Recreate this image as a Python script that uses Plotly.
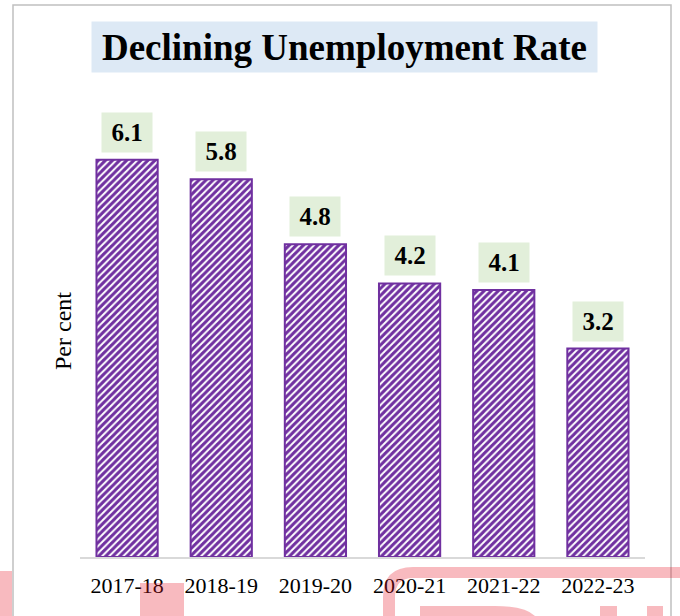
import plotly.graph_objects as go

years = ["2017-18", "2018-19", "2019-20", "2020-21", "2021-22", "2022-23"]
rates = [6.1, 5.8, 4.8, 4.2, 4.1, 3.2]
value_labels = ["6.1", "5.8", "4.8", "4.2", "4.1", "3.2"]

PURPLE = "#7030a0"
SERIF = "Liberation Serif, Times New Roman, serif"

W, H = 680, 616
ML, MR, MT, MB = 80, 35, 101, 59
plot_w = W - ML - MR
plot_h = H - MT - MB

def px_x(p):
    return (p - ML) / plot_w

def px_y(p):
    return (H - MB - p) / plot_h

def path_from(points):
    """points: list of ('M'|'L'|'Q', coords...) in pixel space -> paper path"""
    out = []
    for seg in points:
        cmd, coords = seg[0], seg[1:]
        conv = []
        for i in range(0, len(coords), 2):
            conv.append(f"{px_x(coords[i])},{px_y(coords[i + 1])}")
        out.append(cmd + " " + " ".join(conv))
    return " ".join(out) + " Z"

fig = go.Figure()
fig.add_trace(go.Bar(
    x=years, y=rates,
    marker=dict(
        color="white",
        line=dict(color=PURPLE, width=2),
        pattern=dict(shape="/", fgcolor=PURPLE, bgcolor="white", fgopacity=1,
                     size=5, solidity=0.6),
    ),
    hoverinfo="skip",
))

annotations = []
for yr, v, t in zip(years, rates, value_labels):
    annotations.append(dict(
        x=yr, y=v, xref="x", yref="y", text=f"<b>{t}</b>", showarrow=False,
        yanchor="bottom", yshift=7, width=42, height=31,
        font=dict(family=SERIF, size=25, color="black"),
        bgcolor="#e2efda", borderpad=4,
    ))

annotations.append(dict(
    x=px_x(344.5), y=px_y(47), xref="paper", yref="paper",
    xanchor="center", yanchor="middle",
    text="<b>Declining Unemployment Rate</b>", showarrow=False,
    width=501, height=46,
    font=dict(family=SERIF, size=37, color="black"),
    bgcolor="#dde9f5", borderpad=2,
))
annotations.append(dict(
    x=px_x(63), y=px_y(331), xref="paper", yref="paper", text="Per cent", textangle=-90,
    showarrow=False, xanchor="center", yanchor="middle",
    font=dict(family=SERIF, size=24, color="black"),
))

shapes = []
# outer frame
shapes.append(dict(type="rect", xref="paper", yref="paper",
                   x0=px_x(13), x1=px_x(671), y0=px_y(640), y1=px_y(5),
                   line=dict(color="#c0c0c0", width=1.5), fillcolor="rgba(0,0,0,0)", layer="below"))
# watermark fragments (semi-transparent red logo pieces at the bottom)
WM = "rgba(232,25,44,0.3)"
for (x0, x1, y0, y1) in [(0, 12, 571, 616), (140, 184, 583, 616),
                          (600, 617, 606, 616), (647, 663, 606, 616)]:
    shapes.append(dict(type="rect", xref="paper", yref="paper",
                       x0=px_x(x0), x1=px_x(x1), y0=px_y(y1), y1=px_y(y0),
                       line=dict(width=0), fillcolor=WM, layer="above"))
shapes.append(dict(type="path", xref="paper", yref="paper",
                   path=path_from([("M", 383, 616), ("L", 383, 597), ("Q", 383, 567, 413, 567),
                                   ("L", 680, 567), ("L", 680, 578), ("L", 413, 578),
                                   ("Q", 395, 578, 395, 597), ("L", 395, 616)]),
                   line=dict(width=0), fillcolor=WM, layer="above"))
shapes.append(dict(type="path", xref="paper", yref="paper",
                   path=path_from([("M", 420, 616), ("L", 420, 606), ("L", 495, 606),
                                   ("Q", 525, 606, 535, 616)]),
                   line=dict(width=0), fillcolor=WM, layer="above"))

fig.update_layout(
    width=W, height=H,
    margin=dict(l=ML, r=MR, t=MT, b=MB),
    paper_bgcolor="white", plot_bgcolor="white",
    bargap=0.35, showlegend=False,
    xaxis=dict(showline=True, linecolor="#d9d9d9", linewidth=1.5, ticks="",
               tickfont=dict(family=SERIF, size=22, color="black"),
               ticklabelstandoff=8, fixedrange=True),
    yaxis=dict(range=[0, 7], visible=False, fixedrange=True),
    annotations=annotations,
    shapes=shapes,
)

fig.write_html("out.html", config={"displayModeBar": False},
               post_script="document.body.style.margin='0px';")
